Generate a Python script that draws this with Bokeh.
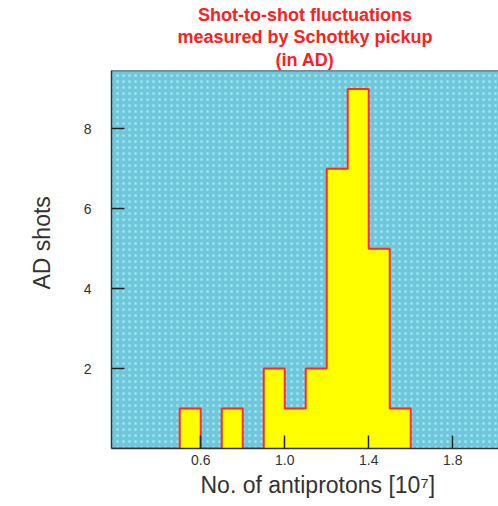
from bokeh.plotting import figure
from bokeh.models import Range1d, FixedTicker, Title, Span, BoxAnnotation, NumeralTickFormatter
from bokeh.embed import file_html
from bokeh.resources import INLINE

# histogram data: bin left edges (width 0.1, units of 10^7 antiprotons) and AD shot counts
bin_left = [0.1, 0.2, 0.3, 0.4, 0.5, 0.6, 0.7, 0.8, 0.9, 1.0, 1.1, 1.2, 1.3, 1.4, 1.5]
counts   = [0,   0,   0,   0,   1,   0,   1,   0,   2,   1,   2,   7,   9,   5,   1]
bin_width = 0.1
x_ticks = [0.6, 1.0, 1.4, 1.8]
y_ticks = [2, 4, 6, 8]
title_lines = ["Shot-to-shot fluctuations", "measured by Schottky pickup", "(in AD)"]
x_label = "No. of antiprotons [10\u2077]"
y_label = "AD shots"

step_x = bin_left + [bin_left[-1] + bin_width]
step_y = counts + [0]

x0, x1 = 0.175, 2.018
y0, y1 = 0, 9.46

p = figure(width=498, height=506, output_backend="svg", toolbar_location=None,
           x_range=Range1d(x0, x1), y_range=Range1d(y0, y1),
           min_border_left=111, min_border_right=0, min_border_top=70, min_border_bottom=58)

p.background_fill_color = "#70c6da"
p.border_fill_color = "white"
p.outline_line_color = None
p.grid.visible = False

dots = BoxAnnotation(fill_alpha=0, line_alpha=0, hatch_pattern="dot", hatch_color="#96e4ee",
                     hatch_scale=6, hatch_weight=1.0, level="underlay")
p.add_layout(dots)

p.varea_step(x=step_x, y1=0, y2=step_y, step_mode="after", fill_color="#ffff00")
p.step(x=step_x, y=step_y, mode="after", line_color="#ff2a2a", line_width=2)

top_line = Span(location=y1, dimension="width", line_color="#333333", line_width=1.5)
p.add_layout(top_line)

for ax in (p.xaxis[0], p.yaxis[0]):
    ax.axis_line_color = "#333333"
    ax.axis_line_width = 1.5
    ax.major_tick_line_color = "#222222"
    ax.major_tick_line_width = 1.5
    ax.major_tick_in = 13
    ax.major_tick_out = 0
    ax.minor_tick_line_color = None
    ax.major_label_text_font = "Liberation Sans"
    ax.major_label_text_font_size = "14px"
    ax.major_label_text_color = "#333333"

p.xaxis[0].ticker = FixedTicker(ticks=x_ticks)
p.xaxis[0].formatter = NumeralTickFormatter(format="0.0")
p.xaxis[0].major_label_standoff = 6

p.yaxis[0].ticker = FixedTicker(ticks=y_ticks)
p.yaxis[0].major_label_standoff = 20

label_style = dict(text_font="Liberation Sans", text_font_size="23px", text_color="#333333",
                   text_font_style="normal", align="left")
p.add_layout(Title(text=x_label, offset=89, standoff=4, **label_style), "below")
p.add_layout(Title(text=y_label, offset=159, standoff=51, **label_style), "left")

for i, line in enumerate(reversed(title_lines)):
    p.add_layout(Title(text=line, align="center", text_color="#ff2020",
                       text_font="Liberation Sans", text_font_size="18px",
                       text_font_style="bold", standoff=2 if i == 0 else 0), "above")

open("out.html", "w").write(file_html(p, INLINE))
